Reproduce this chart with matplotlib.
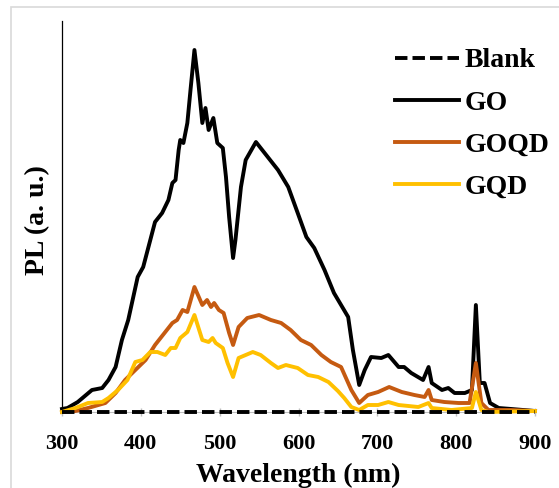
import matplotlib.pyplot as plt
from matplotlib.patches import Rectangle

plt.rcParams['font.family'] = ['Liberation Serif', 'DejaVu Serif']
plt.rcParams['font.weight'] = 'bold'

# PL spectra (a. u.)
blank_wl = [300, 400, 500, 600, 700, 800, 900]
blank_pl = [0.5, 0.5, 0.5, 0.5, 0.5, 0.5, 0.5]

go_wl = [300, 307, 320, 338, 351, 359, 368, 376, 384, 396, 403, 412, 418, 427, 435, 440,
         444, 448, 450, 454, 459, 463, 468, 473, 478, 482, 486, 492, 497, 504, 508, 512,
         517, 520, 527, 533, 546, 561, 574, 587, 599, 610, 620, 633, 645, 654, 663, 669,
         677, 684, 692, 705, 714, 727, 734, 743, 758, 765, 769, 782, 790, 798, 811, 820,
         825, 830, 836, 843, 854, 870, 900]
go_pl = [3, 4, 10, 22, 24, 32, 45, 72, 92, 135, 145, 172, 190, 199, 212, 229,
         232, 262, 272, 269, 289, 322, 362, 329, 289, 304, 282, 294, 269, 264, 235, 195,
         154, 172, 225, 252, 270, 255, 242, 225, 199, 175, 164, 142, 119, 107, 95, 62,
         27, 42, 55, 54, 57, 45, 45, 39, 32, 45, 29, 22, 24, 19, 19, 22,
         107, 29, 29, 9, 4, 3, 1]

goqd_wl = [300, 317, 333, 355, 368, 380, 393, 406, 418, 431, 440, 446, 453, 459, 468, 478,
           484, 489, 493, 499, 505, 512, 517, 524, 535, 550, 565, 578, 590, 603, 616, 629,
           641, 654, 667, 677, 688, 701, 715, 731, 747, 760, 765, 769, 785, 803, 817, 825,
           832, 841, 870, 900]
goqd_pl = [0, 1, 4, 9, 19, 32, 42, 52, 67, 80, 89, 92, 102, 100, 125, 107,
           112, 105, 109, 102, 99, 79, 67, 85, 94, 97, 92, 89, 82, 72, 67, 57,
           50, 45, 22, 9, 17, 20, 25, 20, 17, 15, 22, 12, 10, 9, 9, 49,
           9, 2, 2, 1]

gqd_wl = [300, 317, 333, 351, 359, 371, 383, 393, 402, 412, 421, 431, 438, 444, 450, 459,
          468, 478, 486, 491, 495, 504, 510, 517, 524, 533, 542, 552, 565, 574, 584, 599,
          612, 625, 638, 650, 658, 667, 677, 688, 701, 714, 727, 752, 765, 769, 794, 820,
          825, 832, 841, 900]
gqd_pl = [0, 4, 9, 10, 14, 22, 32, 50, 52, 60, 60, 57, 64, 64, 74, 80,
          97, 72, 70, 74, 69, 64, 49, 35, 54, 57, 60, 57, 49, 44, 47, 44,
          37, 35, 30, 21, 14, 5, 2, 7, 7, 10, 7, 5, 9, 4, 2, 4,
          20, 2, 0, 1]

xticks = [300, 400, 500, 600, 700, 800, 900]

fig = plt.figure(figsize=(5.59, 4.88), dpi=100)
# light grey frame around the picture
fig.patches.append(Rectangle((11 / 559, -0.1), 1.2, 1.1 - 7 / 488,
                             transform=fig.transFigure, fill=False,
                             edgecolor='#d9d9d9', lw=1.2))
ax = fig.add_axes([62 / 559, 1 - 412 / 488, (535 - 62) / 559, (412 - 21) / 488])

lw = 2.8
ax.plot(go_wl, go_pl, color='black', lw=lw, label='GO', zorder=3, clip_on=False)
ax.plot(goqd_wl, goqd_pl, color='#c55a11', lw=lw, label='GOQD', zorder=3, clip_on=False)
ax.plot(gqd_wl, gqd_pl, color='#ffc000', lw=lw, label='GQD', zorder=3, clip_on=False)
ax.plot(blank_wl, blank_pl, color='black', lw=lw, ls=(0, (3.2, 1.3)), label='Blank',
        zorder=4, clip_on=False)

ax.set_xlim(300, 900)
ax.set_ylim(0, 391)
ax.set_xticks(xticks)
ax.set_yticks([])
ax.tick_params(axis='x', direction='inout', length=6, width=1, color='#bfbfbf',
               labelsize=16, pad=13)
for s in ['top', 'right']:
    ax.spines[s].set_visible(False)
ax.spines['bottom'].set_color('#bfbfbf')
ax.spines['left'].set_color('black')
ax.spines['left'].set_linewidth(0.9)

ax.set_xlabel('Wavelength (nm)', fontsize=20, fontweight='bold', labelpad=6)
ax.set_ylabel('PL (a. u.)', fontsize=20, fontweight='bold')
ax.yaxis.set_label_coords(-0.026, 0.49)

h, l = ax.get_legend_handles_labels()
order = [3, 0, 1, 2]
ax.legend([h[i] for i in order], [l[i] for i in order], loc='upper right',
          bbox_to_anchor=(1.083, 0.995), frameon=False,
          handlelength=2.3, handletextpad=0.2, labelspacing=0.6,
          prop={'weight': 'bold', 'size': 20})

fig.savefig('out.png', dpi=100)
